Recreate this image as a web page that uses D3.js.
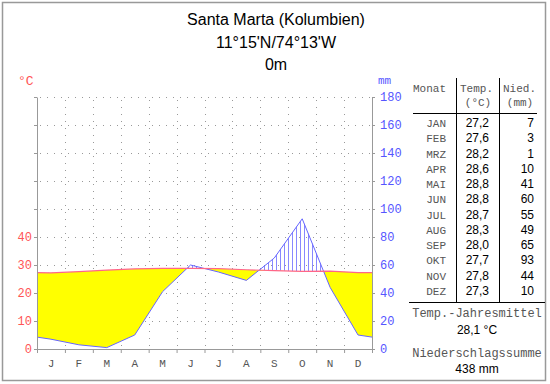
<!DOCTYPE html>
<html>
<head>
<meta charset="utf-8">
<script src="https://cdn.jsdelivr.net/npm/d3@7"></script>
<style>
  body { margin: 0; background: #fff; }
  svg { display: block; }
  .mono { font-family: "Liberation Mono", "DejaVu Sans Mono", monospace; }
  .sans { font-family: "Liberation Sans", Arial, sans-serif; }
</style>
</head>
<body>
<div id="chart"></div>
<script>
// Klimadaten Santa Marta
const months = ['JAN', 'FEB', 'MRZ', 'APR', 'MAI', 'JUN', 'JUL', 'AUG', 'SEP', 'OKT', 'NOV', 'DEZ'];
const monthLetters = ['J', 'F', 'M', 'A', 'M', 'J', 'J', 'A', 'S', 'O', 'N', 'D'];
const temp = [27.2, 27.6, 28.2, 28.6, 28.8, 28.8, 28.7, 28.3, 28.0, 27.7, 27.8, 27.3];
const prec = [7, 3, 1, 10, 41, 60, 55, 49, 65, 93, 44, 10];
const tempTicks = [0, 10, 20, 30, 40];
const precTicks = [0, 20, 40, 60, 80, 100, 120, 140, 160, 180];
const titleLines = ['Santa Marta (Kolumbien)', "11°15'N/74°13'W", '0m'];
const tempMean = '28,1 °C';
const precSum = '438 mm';

const width = 550;
const height = 384;

const svg = d3.select('#chart')
  .append('svg')
  .attr('width', width)
  .attr('height', height);

// Rahmen
svg.append('rect')
  .attr('x', 2.5).attr('y', 2.5)
  .attr('width', 543).attr('height', 378)
  .attr('fill', 'none')
  .attr('stroke', '#999')
  .attr('stroke-width', 1.5);

// Titel
svg.selectAll('.title')
  .data(titleLines)
  .enter()
  .append('text')
  .attr('class', 'title sans')
  .attr('x', 276)
  .attr('y', (d, i) => 25 + i * 22.5)
  .attr('text-anchor', 'middle')
  .attr('font-size', '16px')
  .attr('fill', '#000')
  .text((d) => d);

// Skalen
const x = d3.scaleLinear().domain([0, 12]).range([37, 372]);
const yT = d3.scaleLinear().domain([0, 90]).range([349, 97]);
const yP = d3.scaleLinear().domain([0, 180]).range([349, 97]);

// Gitter
const grid = svg.append('g').attr('stroke', '#999').attr('stroke-dasharray', '1,6');
grid.selectAll('.hgrid')
  .data(d3.range(10, 100, 10))
  .enter()
  .append('line')
  .attr('x1', x(0) + 3).attr('x2', x(12))
  .attr('y1', (d) => yT(d) + 0.5).attr('y2', (d) => yT(d) + 0.5);
grid.selectAll('.vgrid')
  .data(d3.range(1, 12))
  .enter()
  .append('line')
  .attr('x1', (d) => Math.round(x(d)) + 0.5).attr('x2', (d) => Math.round(x(d)) + 0.5)
  .attr('y1', yT(90) + 3).attr('y2', yT(0));

// Kurvenpunkte: Monatsmitte, Ränder aus Dez/Jan gemittelt
const edgeT = (temp[0] + temp[11]) / 2;
const edgeP = (prec[0] + prec[11]) / 2;
const pts = [{ m: 0, t: edgeT, p: edgeP }]
  .concat(temp.map((t, i) => ({ m: i + 0.5, t: t, p: prec[i] })))
  .concat([{ m: 12, t: edgeT, p: edgeP }]);

const between = d3.area()
  .x((d) => x(d.m))
  .y0((d) => yT(d.t))
  .y1((d) => yP(d.p));

const defs = svg.append('defs');
defs.append('clipPath').attr('id', 'below')
  .append('path')
  .attr('d', d3.area().x((d) => x(d.m)).y0(yT(0)).y1((d) => yT(d.t))(pts));
defs.append('clipPath').attr('id', 'above')
  .append('path')
  .attr('d', d3.area().x((d) => x(d.m)).y0(yT(90)).y1((d) => yT(d.t))(pts));

const pattern = defs.append('pattern')
  .attr('id', 'hatch')
  .attr('patternUnits', 'userSpaceOnUse')
  .attr('width', 4).attr('height', 4);
pattern.append('line')
  .attr('x1', 0.5).attr('x2', 0.5)
  .attr('y1', 0).attr('y2', 4)
  .attr('stroke', '#8888ff')
  .attr('stroke-width', 1);

// aride Zeit (gelb)
svg.append('path')
  .attr('d', between(pts))
  .attr('fill', '#ffff00')
  .attr('clip-path', 'url(#below)');

// humide Zeit (schraffiert)
svg.append('path')
  .attr('d', between(pts))
  .attr('fill', 'url(#hatch)')
  .attr('clip-path', 'url(#above)');

// Linien
svg.append('path')
  .attr('d', d3.line().x((d) => x(d.m)).y((d) => yP(d.p))(pts))
  .attr('fill', 'none')
  .attr('stroke', '#6666ff')
  .attr('stroke-width', 1);
svg.append('path')
  .attr('d', d3.line().x((d) => x(d.m)).y((d) => yT(d.t))(pts))
  .attr('fill', 'none')
  .attr('stroke', '#ff6688')
  .attr('stroke-width', 1.2);

// Achsen
const leftAxis = svg.append('g')
  .attr('transform', `translate(${x(0)},0)`)
  .call(d3.axisLeft(yT)
    .tickValues(d3.range(0, 100, 10))
    .tickSize(3)
    .tickSizeOuter(0)
    .tickPadding(2)
    .tickFormat((d) => (tempTicks.includes(d) ? d : '')));
leftAxis.selectAll('text')
  .attr('class', 'mono')
  .attr('font-size', '12px')
  .attr('fill', '#ff5555');

const rightAxis = svg.append('g')
  .attr('transform', `translate(${x(12)},0)`)
  .call(d3.axisRight(yP)
    .tickValues(precTicks)
    .tickSize(3)
    .tickSizeOuter(0)
    .tickPadding(5));
rightAxis.selectAll('text')
  .attr('class', 'mono')
  .attr('font-size', '12px')
  .attr('fill', '#5555ff');

const bottomAxis = svg.append('g')
  .attr('transform', `translate(0,${yT(0)})`)
  .call(d3.axisBottom(x)
    .tickValues(d3.range(0, 13))
    .tickSize(4)
    .tickSizeOuter(0)
    .tickFormat(''));

[leftAxis, rightAxis, bottomAxis].forEach((a) => {
  a.select('.domain').attr('stroke', '#999');
  a.selectAll('line').attr('stroke', '#999');
});

svg.selectAll('.mlabel')
  .data(monthLetters)
  .enter()
  .append('text')
  .attr('class', 'mlabel mono')
  .attr('x', (d, i) => x(i + 0.5))
  .attr('y', 367)
  .attr('text-anchor', 'middle')
  .attr('font-size', '11px')
  .attr('fill', '#555')
  .text((d) => d);

svg.append('text')
  .attr('class', 'mono')
  .attr('x', 18).attr('y', 85)
  .attr('font-size', '13px')
  .attr('fill', '#ff5555')
  .text('°C');
svg.append('text')
  .attr('class', 'mono')
  .attr('x', 378).attr('y', 84)
  .attr('font-size', '11px')
  .attr('fill', '#5555ff')
  .text('mm');

// Tabelle
const table = svg.append('g');
const rowY = (i) => 127 + i * 15.27;

table.append('line')
  .attr('x1', 413).attr('x2', 537)
  .attr('y1', 113.5).attr('y2', 113.5)
  .attr('stroke', '#000');
table.append('line')
  .attr('x1', 409).attr('x2', 545)
  .attr('y1', 302.5).attr('y2', 302.5)
  .attr('stroke', '#000');
[456.5, 499.5].forEach((lx) => {
  table.append('line')
    .attr('x1', lx).attr('x2', lx)
    .attr('y1', 78).attr('y2', 302)
    .attr('stroke', '#000');
});

const header = [
  { t: 'Monat', x: 413, y: 92, a: 'start' },
  { t: 'Temp.', x: 460, y: 92, a: 'start' },
  { t: '(°C)', x: 478, y: 106, a: 'middle' },
  { t: 'Nied.', x: 503, y: 92, a: 'start' },
  { t: '(mm)', x: 520, y: 106, a: 'middle' },
];
table.selectAll('.head')
  .data(header)
  .enter()
  .append('text')
  .attr('class', 'head mono')
  .attr('x', (d) => d.x).attr('y', (d) => d.y)
  .attr('text-anchor', (d) => d.a)
  .attr('font-size', '11px')
  .attr('fill', '#555')
  .text((d) => d.t);

table.selectAll('.mon')
  .data(months)
  .enter()
  .append('text')
  .attr('class', 'mon mono')
  .attr('x', 446).attr('y', (d, i) => rowY(i))
  .attr('text-anchor', 'end')
  .attr('font-size', '11px')
  .attr('fill', '#555')
  .text((d) => d);

table.selectAll('.tval')
  .data(temp)
  .enter()
  .append('text')
  .attr('class', 'tval sans')
  .attr('x', 489).attr('y', (d, i) => rowY(i))
  .attr('text-anchor', 'end')
  .attr('font-size', '12px')
  .attr('fill', '#000')
  .text((d) => d.toFixed(1).replace('.', ','));

table.selectAll('.pval')
  .data(prec)
  .enter()
  .append('text')
  .attr('class', 'pval sans')
  .attr('x', 534).attr('y', (d, i) => rowY(i))
  .attr('text-anchor', 'end')
  .attr('font-size', '12px')
  .attr('fill', '#000')
  .text((d) => d);

const footer = [
  { t: 'Temp.-Jahresmittel', y: 317, c: 'mono', f: '#555' },
  { t: tempMean, y: 334, c: 'sans', f: '#000' },
  { t: 'Niederschlagssumme', y: 357, c: 'mono', f: '#555' },
  { t: precSum, y: 373, c: 'sans', f: '#000' },
];
table.selectAll('.foot')
  .data(footer)
  .enter()
  .append('text')
  .attr('class', (d) => 'foot ' + d.c)
  .attr('x', 477).attr('y', (d) => d.y)
  .attr('text-anchor', 'middle')
  .attr('font-size', '12px')
  .attr('fill', (d) => d.f)
  .text((d) => d.t);
</script>
</body>
</html>
